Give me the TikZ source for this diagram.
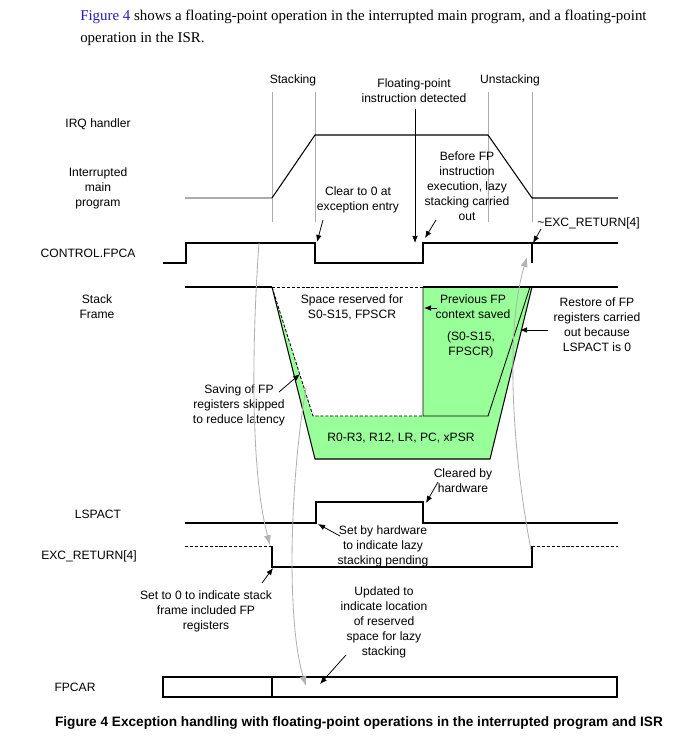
\documentclass[tikz,border=0pt]{standalone}
\usepackage{fontspec}
\setmainfont{Liberation Serif}
\setsansfont{Liberation Sans}
\usetikzlibrary{arrows.meta}
\definecolor{fpgreen}{RGB}{153,255,153}
\definecolor{linkblue}{RGB}{30,30,190}
\tikzset{
  txt/.style={font=\fontsize{10.6}{13}\selectfont, inner sep=0pt},
  lbl/.style={font=\sffamily\fontsize{8.6}{10.7}\selectfont, align=center, inner sep=0pt},
  capt/.style={font=\sffamily\bfseries\fontsize{9.7}{12}\selectfont, inner sep=0pt},
  sig/.style={line width=0.75pt},
  pend/.style={line width=0.6pt, dash pattern=on 2.2pt off 1.3pt},
  guide/.style={gray!65, line width=0.5pt},
  ptr/.style={-{Latex[length=5pt,width=4pt]}, line width=0.55pt},
  link/.style={-{Latex[length=7pt,width=5pt]}, gray!60, line width=0.6pt}
}
\begin{document}
\begin{tikzpicture}[x=0.025cm, y=-0.025cm]
    \useasboundingbox (0,0) rectangle (674,737);
    % Intro text
    \node[txt, anchor=west] (intro1) at (80,17) {\textcolor{linkblue}{Figure 4} shows a floating-point operation in the interrupted main program, and a floating-point};
    \node[txt, anchor=west] (intro2) at (80,39) {operation in the ISR.};
    % Row labels
    \node[lbl] (irq) at (98,124) {IRQ handler};
    \node[lbl] (mainprog) at (98,188) {Interrupted\\main\\program};
    \node[lbl] (fpca) at (88,253) {CONTROL.FPCA};
    \node[lbl] (frame) at (97,307) {Stack\\Frame};
    \node[lbl] (lspact) at (98,514) {LSPACT};
    \node[lbl] (excret) at (89,556) {EXC\_RETURN[4]};
    \node[lbl] (fpcar) at (75,687) {FPCAR};
    % Phases
    \node[lbl] (stk) at (293,80) {Stacking};
    \node[lbl] (unstk) at (510,80) {Unstacking};
    \foreach \x in {272,315,488,532}
        \draw[guide] (\x,92) -- (\x,222);
    % IRQ handler / main program
    \draw[guide, line width=0.75pt] (185,198) -- (272,198);
    \draw[sig] (272,198) -- (315,135) -- (488,135) -- (532,198) -- (618,198);
    % CONTROL.FPCA
    \draw[sig] (163,263) -- (186,263) -- (186,243) -- (315,243) -- (315,263) -- (423,263) -- (423,243) -- (618,243);
    \draw[sig] (532,243) -- (532,263);
    \node[lbl] (fpdet) at (414,91) {Floating-point\\instruction detected};
    \coordinate (fpdettip) at (415,243);
    \draw[ptr] (fpdet.south -| fpdettip) ++(0,6) -- (fpdettip);
    \node[lbl] (clr) at (358,200) {Clear to 0 at\\exception entry};
    \coordinate (clrtail) at (323,220);
    \coordinate (clrtip) at (317,242);
    \draw[ptr] (clrtail) -- (clrtip);
    \node[lbl] (lazy) at (467,186) {Before FP\\instruction\\execution, lazy\\stacking carried\\out};
    \coordinate (lazytail) at (436,220);
    \coordinate (lazytip) at (425,238);
    \draw[ptr] (lazytail) -- (lazytip);
    \node[lbl, anchor=west] (notexc) at (537,223) {\textasciitilde EXC\_RETURN[4]};
    \coordinate (notexctail) at (541,229);
    \coordinate (notexctip) at (533,243);
    \draw[ptr] (notexctail) -- (notexctip);
    % Stack frame
    \fill[fpgreen] (272,287) -- (315,459) -- (490,459) -- (532,287) -- cycle;
    \fill[white] (272,287) -- (313,416) -- (423,416) -- (423,287) -- cycle;
    \draw[sig] (185,287) -- (272,287);
    \draw[sig] (423,287) -- (618,287);
    \draw[pend] (272,287) -- (423,287);
    \draw[pend] (272,287) -- (313,416) -- (423,416);
    \draw[line width=0.6pt] (423,287) -- (423,416) -- (488,416) -- (530,287);
    \draw[sig] (272,287) -- (315,459) -- (490,459) -- (532,287);
    \node[lbl] (resv) at (352,307) {Space reserved for\\S0-S15, FPSCR};
    \node[lbl] (prevfp) at (473,307) {Previous FP\\context saved};
    \node[lbl] (prevregs) at (471,345) {(S0-S15,\\FPSCR)};
    \node[lbl] (regs) at (401,438) {R0-R3, R12, LR, PC, xPSR};
    \coordinate (prevtail) at (437,308);
    \coordinate (prevtip) at (424,308);
    \draw[ptr] (prevtail) -- (prevtip);
    \node[lbl] (restore) at (597,325) {Restore of FP\\registers carried\\out because\\LSPACT is 0};
    \coordinate (restoretail) at (548,330);
    \coordinate (restoretip) at (520,330);
    \draw[ptr] (restoretail) -- (restoretip);
    \node[lbl] (skip) at (239,405) {Saving of FP\\registers skipped\\to reduce latency};
    \coordinate (skiptail) at (279,392);
    \coordinate (skiptip) at (300,374);
    \draw[ptr] (skiptail) -- (skiptip);
    % LSPACT
    \draw[sig] (185,523) -- (316,523) -- (316,502) -- (423,502) -- (423,523) -- (618,523);
    \node[lbl] (cleared) at (463,481) {Cleared by\\hardware};
    \coordinate (clearedtail) at (438,482);
    \coordinate (clearedtip) at (426,503);
    \draw[ptr] (clearedtail) -- (clearedtip);
    \node[lbl] (setby) at (383,546) {Set by hardware\\to indicate lazy\\stacking pending};
    \coordinate (setbytail) at (340,536);
    \coordinate (setbytip) at (318,524);
    \draw[ptr] (setbytail) -- (setbytip);
    % EXC_RETURN[4]
    \draw[pend] (185,546) -- (272,546);
    \draw[sig] (272,546) -- (272,567) -- (532,567) -- (532,546);
    \draw[pend] (532,546) -- (618,546);
    \node[lbl] (setzero) at (206,611) {Set to 0 to indicate stack\\frame included FP\\registers};
    \coordinate (setzerotail) at (262,583);
    \coordinate (setzerotip) at (273,568);
    \draw[ptr] (setzerotail) -- (setzerotip);
    % FPCAR
    \draw[sig] (163,677) rectangle (617,697);
    \draw[sig] (272,677) -- (272,697);
    \node[lbl] (updated) at (384,622) {Updated to\\indicate location\\of reserved\\space for lazy\\stacking};
    \coordinate (updtail) at (346,655);
    \coordinate (updtip) at (320,684);
    \draw[ptr] (updtail) -- (updtip);
    % Gray links
    \coordinate (fpcaout) at (259,243);
    \coordinate (excin) at (270,545);
    \draw[link] (fpcaout) .. controls (252,340) and (250,470) .. (excin);
    \coordinate (resvout) at (306,388);
    \coordinate (fpcarin) at (306,686);
    \draw[link] (resvout) .. controls (290,480) and (286,620) .. (fpcarin);
    \coordinate (excout) at (531,550);
    \coordinate (fpcain) at (527,257);
    \draw[link] (excout) .. controls (512,450) and (505,330) .. (fpcain);
    % Caption
    \node[capt] (caption) at (359,723) {Figure 4 Exception handling with floating-point operations in the interrupted program and ISR};
\end{tikzpicture}
\end{document}
